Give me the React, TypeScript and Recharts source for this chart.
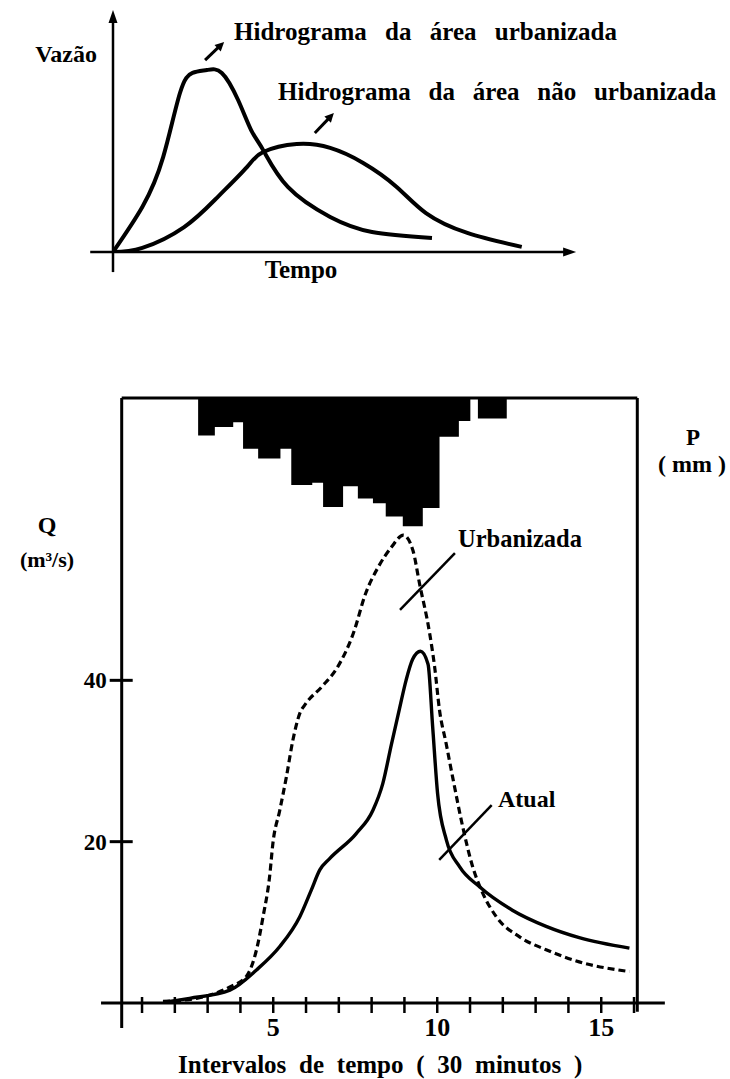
import React from 'react';
import { ComposedChart, LineChart, Line, Area, XAxis, YAxis, ReferenceLine } from 'recharts';

// ---------- Top schematic (Vazão x Tempo) ----------
const urbanX = [0, 0.63, 1.08, 1.44, 1.71, 2.02, 2.34, 2.69, 2.97, 3.23, 3.76, 4.67, 5.57, 6.86];
const urbanY = [0, 1.86, 3.93, 6.57, 7.4, 7.52, 7.4, 6.28, 5.04, 4.21, 2.69, 1.45, 0.83, 0.58];
const ruralX = [0, 0.63, 1.53, 2.25, 2.88, 3.23, 3.95, 4.67, 5.38, 6.1, 6.73, 7.62, 8.79];
const ruralY = [0, 0.17, 1.03, 2.27, 3.51, 4.13, 4.46, 4.3, 3.68, 2.69, 1.61, 0.79, 0.21];

// ---------- Bottom hydrograph ----------
// time in intervals of 30 minutes, Q in m3/s
const atualT = [1.64, 2.45, 3.68, 4.49, 5.2, 5.81, 6.16, 6.42, 6.72, 7.53, 8.04, 8.34, 8.6, 8.85, 9.05, 9.25, 9.49, 9.72, 9.86, 10.01, 10.28, 10.68, 11.29, 12.29, 13.32, 14.33, 15.86];
const atualQ = [0.1, 0.58, 1.6, 4.1, 7.0, 10.7, 14.0, 16.5, 17.9, 21.0, 23.9, 27.2, 32.0, 36.5, 40.0, 42.6, 43.6, 42.0, 34.3, 26.0, 20.2, 16.9, 14.4, 11.5, 9.5, 8.1, 6.8];
const urbT = [1.64, 2.66, 3.68, 4.18, 4.49, 4.69, 4.89, 4.99, 5.2, 5.4, 5.6, 5.81, 5.99, 6.48, 6.97, 7.44, 7.82, 8.21, 8.6, 8.97, 9.26, 9.46, 9.77, 9.92, 10.07, 10.27, 10.47, 10.78, 11.08, 11.39, 11.8, 12.51, 13.32, 14.33, 15.86];
const urbQ = [0.2, 0.58, 2.0, 3.3, 6.6, 10.7, 15.7, 19.8, 23.9, 28.0, 32.6, 35.9, 37.1, 39.2, 41.7, 45.8, 50.8, 54.1, 56.5, 58.0, 56.1, 52.0, 45.8, 41.7, 36.3, 32.2, 28.0, 21.8, 16.9, 13.6, 10.7, 8.2, 6.6, 5.1, 3.9];
// rainfall hyetograph (step start times, depth in mm)
const rainT = [2.71, 3.22, 3.78, 4.08, 4.54, 5.22, 5.55, 6.19, 6.52, 7.13, 7.58, 8.04, 8.43, 8.95, 9.56, 10.07, 10.66, 11.01, 11.24, 12.12];
const rainP = [3.1, 2.4, 2.0, 4.2, 5.0, 4.2, 7.2, 7.0, 9.0, 7.3, 8.3, 8.7, 9.8, 10.6, 9.1, 3.2, 1.9, 0, 1.7, 0];

const xTicks = [1, 2, 3, 4, 5, 6, 7, 8, 9, 10, 11, 12, 13, 14, 15, 16];
const xTickLabels = [5, 10, 15];
const yTicks = [20, 40];

const urbanData = urbanX.map((x, i) => ({ x, y: urbanY[i] }));
const ruralData = ruralX.map((x, i) => ({ x, y: ruralY[i] }));
const atualData = atualT.map((t, i) => ({ t, q: atualQ[i] }));
const urbData = urbT.map((t, i) => ({ t, q: urbQ[i] }));
const rainData = rainT.map((t, i) => ({ t, p: rainP[i] }));

const serif = 'Liberation Serif, Times New Roman, serif';

function arrowShape(width: number, head: number, half: number) {
  return (p: any) => {
    const { x1, y1, x2, y2 } = p;
    if ([x1, y1, x2, y2].some((v) => typeof v !== 'number' || isNaN(v))) return <g />;
    const a = Math.atan2(y2 - y1, x2 - x1);
    const bx = x2 - head * Math.cos(a);
    const by = y2 - head * Math.sin(a);
    const px = -Math.sin(a) * half;
    const py = Math.cos(a) * half;
    return (
      <g>
        <line x1={x1} y1={y1} x2={bx + Math.cos(a)} y2={by + Math.sin(a)} stroke="#000" strokeWidth={width} />
        <polygon points={`${x2},${y2} ${bx + px},${by + py} ${bx - px},${by - py}`} fill="#000" />
      </g>
    );
  };
}

function renderXTick(p: any) {
  const { x, y, payload } = p;
  const v = payload.value;
  return (
    <g>
      <line x1={x} y1={y - 6} x2={x} y2={y + 10} stroke="#000" strokeWidth={2.5} />
      {xTickLabels.includes(v) && (
        <text x={x} y={y + 33} textAnchor="middle" style={{ fontFamily: serif, fontWeight: 'bold', fontSize: 26 }} fill="#000">
          {v}
        </text>
      )}
    </g>
  );
}

function renderYTick(p: any) {
  const { x, y, payload } = p;
  return (
    <g>
      <line x1={x - 12} y1={y} x2={x + 11} y2={y} stroke="#000" strokeWidth={3} />
      <text x={x - 15} y={y + 8} textAnchor="end" style={{ fontFamily: serif, fontWeight: 'bold', fontSize: 23 }} fill="#000">
        {payload.value}
      </text>
    </g>
  );
}

const T = (size: number, ws = 0): React.CSSProperties => ({ fontFamily: serif, fontWeight: 'bold', fontSize: size, wordSpacing: ws });

export default function App() {
  return (
    <div style={{ position: 'absolute', left: 0, top: 0, width: 730, height: 1079, background: '#fff', overflow: 'hidden' }}>
      <div style={{ position: 'absolute', left: 0, top: 0 }}>
        <LineChart width={730} height={300} margin={{ top: 10, right: 152, bottom: 48, left: 113 }}>
          <XAxis type="number" dataKey="x" domain={[0, 10]} hide allowDataOverflow />
          <YAxis type="number" domain={[0, 10]} hide allowDataOverflow />
          <ReferenceLine segment={[{ x: 0, y: -0.83 }, { x: 0, y: 10 }]} ifOverflow="visible" shape={arrowShape(2.5, 13, 4.5)} />
          <ReferenceLine segment={[{ x: -0.49, y: 0 }, { x: 9.96, y: 0 }]} ifOverflow="visible" shape={arrowShape(2.5, 13, 4.5)} />
          <ReferenceLine segment={[{ x: 1.98, y: 7.93 }, { x: 2.39, y: 8.68 }]} ifOverflow="visible" shape={arrowShape(3, 9, 4.5)} />
          <ReferenceLine segment={[{ x: 4.34, y: 4.92 }, { x: 4.75, y: 5.74 }]} ifOverflow="visible" shape={arrowShape(3, 9, 4.5)} />
          <Line data={urbanData} dataKey="y" type="natural" stroke="#000" strokeWidth={4} dot={false} isAnimationActive={false} />
          <Line data={ruralData} dataKey="y" type="natural" stroke="#000" strokeWidth={4} dot={false} isAnimationActive={false} />
        </LineChart>
      </div>

      <div style={{ position: 'absolute', left: 0, top: 380 }}>
        <ComposedChart width={730} height={699} margin={{ top: 18, right: 92.7, bottom: 0, left: 0 }}>
          <XAxis
            type="number"
            dataKey="t"
            domain={[0.38, 16.1]}
            allowDataOverflow
            ticks={xTicks}
            interval={0}
            axisLine={false}
            tickLine={false}
            tickSize={0}
            tickMargin={0}
            height={76}
            tick={renderXTick}
          />
          <YAxis
            yAxisId="q"
            type="number"
            domain={[0, 75]}
            allowDataOverflow
            ticks={yTicks}
            width={121.7}
            axisLine={false}
            tickLine={false}
            tickSize={0}
            tickMargin={0}
            tick={renderYTick}
          />
          <YAxis yAxisId="p" orientation="right" type="number" domain={[0, 50]} reversed hide allowDataOverflow />
          <Area yAxisId="p" data={rainData} dataKey="p" type="stepAfter" fill="#000" fillOpacity={1} stroke="none" baseValue={0} isAnimationActive={false} />
          <Line yAxisId="q" data={urbData} dataKey="q" type="monotone" stroke="#000" strokeWidth={3.2} strokeDasharray="7 4" dot={false} isAnimationActive={false} />
          <Line yAxisId="q" data={atualData} dataKey="q" type="monotone" stroke="#000" strokeWidth={3.4} dot={false} isAnimationActive={false} />
          {/* frame and axes */}
          <ReferenceLine yAxisId="q" segment={[{ x: -0.25, y: 0 }, { x: 16.94, y: 0 }]} ifOverflow="visible" stroke="#000" strokeWidth={3} />
          <ReferenceLine yAxisId="q" segment={[{ x: 0.38, y: -3.1 }, { x: 0.38, y: 75 }]} ifOverflow="visible" stroke="#000" strokeWidth={3} />
          <ReferenceLine yAxisId="q" segment={[{ x: 0.38, y: 75 }, { x: 16.1, y: 75 }]} ifOverflow="visible" stroke="#000" strokeWidth={3} />
          <ReferenceLine yAxisId="q" segment={[{ x: 16.1, y: -1.1 }, { x: 16.1, y: 75 }]} ifOverflow="visible" stroke="#000" strokeWidth={3} />
          {/* label pointers */}
          <ReferenceLine yAxisId="q" segment={[{ x: 8.865, y: 48.72 }, { x: 10.54, y: 55.78 }]} ifOverflow="visible" stroke="#000" strokeWidth={2.5} />
          <ReferenceLine yAxisId="q" segment={[{ x: 10.06, y: 17.73 }, { x: 11.66, y: 24.54 }]} ifOverflow="visible" stroke="#000" strokeWidth={2.5} />
        </ComposedChart>
      </div>

      <svg width={730} height={1079} style={{ position: 'absolute', left: 0, top: 0, pointerEvents: 'none' }}>
        <text x={97} y={62} textAnchor="end" style={T(24)} fill="#000">Vazão</text>
        <text x={234} y={40} style={T(25, 12)} fill="#000">Hidrograma da área urbanizada</text>
        <text x={278} y={100} style={T(25, 11.5)} fill="#000">Hidrograma da área não urbanizada</text>
        <text x={301} y={278} textAnchor="middle" style={T(25)} fill="#000">Tempo</text>

        <text x={47} y={533} textAnchor="middle" style={T(24)} fill="#000">Q</text>
        <text x={47} y={567} textAnchor="middle" style={T(22)} fill="#000">(m³/s)</text>
        <text x={693} y={445} textAnchor="middle" style={T(23)} fill="#000">P</text>
        <text x={692} y={472} textAnchor="middle" style={T(24)} fill="#000">( mm )</text>

        <text x={458} y={547} style={T(24.5)} fill="#000">Urbanizada</text>
        <text x={498} y={807} style={T(24)} fill="#000">Atual</text>
        <text x={178} y={1073} style={T(25, 6.5)} fill="#000">Intervalos de tempo ( 30 minutos )</text>
      </svg>
    </div>
  );
}
